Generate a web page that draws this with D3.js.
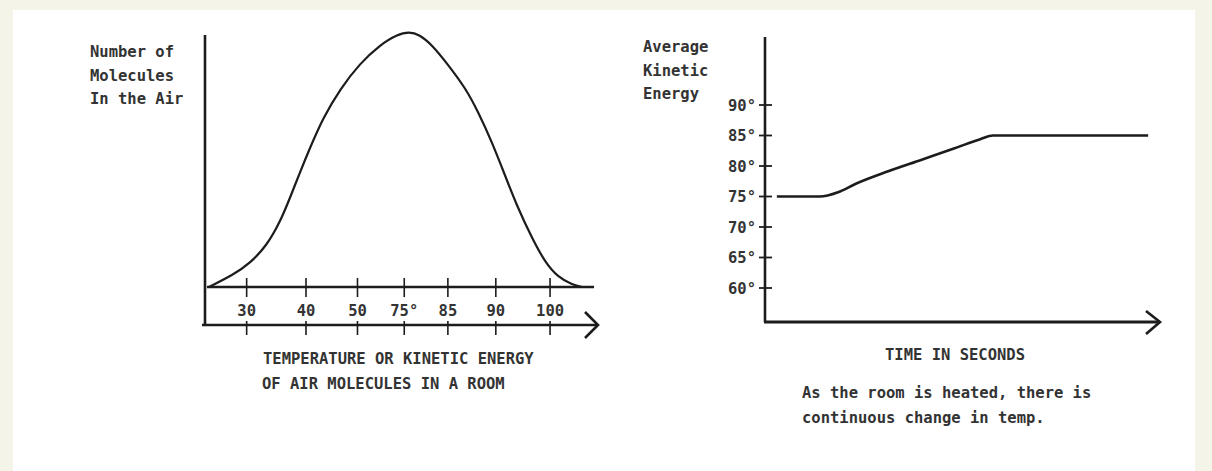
<!DOCTYPE html>
<html>
<head>
<meta charset="utf-8">
<script src="https://cdn.jsdelivr.net/npm/d3@7"></script>
<style>
  html, body { margin: 0; padding: 0; background: #f4f4e8; }
  svg { display: block; }
  text { font-family: "DejaVu Sans Mono", "Liberation Mono", monospace; font-size: 15.5px; font-weight: bold; fill: #333333; }
</style>
</head>
<body>
<svg id="chart" width="1212" height="471"></svg>
<script>
// ---------- data: left chart (distribution of molecules) ----------
const energyTickLabels = ["30", "40", "50", "75°", "85", "90", "100"];
const energyTickPos    = [1.06, 2.57, 3.88, 5.07, 6.18, 7.40, 8.78];   // position along the energy axis (0..10)
const energyPos     = [0.10, 0.71, 1.15, 1.58, 1.91, 2.16, 2.42, 2.67, 3.00, 3.44, 3.94, 4.45, 4.89, 5.20, 5.45, 5.78, 6.18, 6.62, 6.95, 7.30, 7.63, 7.96, 8.32, 8.65, 8.98, 9.34, 9.59];
const moleculeCount = [0,    4.7,  9.4,  16.5, 25.6, 35.0, 45.3, 54.7, 66.5, 78.0, 88.0, 95.3, 99.4, 100.5,99.4, 95.3, 87.6, 78.5, 69.0, 57.1, 44.1, 31.1, 19.3, 9.8,  3.9,  1.0,  0];
const leftYLabel = ["Number of", "Molecules", "In the Air"];
const leftXLabel = ["TEMPERATURE OR KINETIC ENERGY", "OF AIR MOLECULES IN A ROOM"];

// ---------- data: right chart (average kinetic energy over time) ----------
const tempTicks = [60, 65, 70, 75, 80, 85, 90];
const timeVals  = [0.30, 1.39, 1.85, 2.30, 3.10, 3.95, 4.80, 5.45, 5.77, 9.70];
const tempVals  = [75,   75,   75.7, 77.1, 79.1, 81.0, 82.9, 84.4, 85,   85];
const rightYLabel = ["Average", "Kinetic", "Energy"];
const rightXLabel = ["TIME IN SECONDS"];
const caption = ["As the room is heated, there is", "continuous change in temp."];

const svg = d3.select("#chart");
const ink = "#1c1c1c";

// paper
svg.append("rect").attr("x", 13).attr("y", 10).attr("width", 1182).attr("height", 461).attr("fill", "#ffffff");

// ================= LEFT CHART =================
const xL = d3.scaleLinear().domain([0, 10]).range([205, 598]);
const yL = d3.scaleLinear().domain([0, 100]).range([287, 33]);
const axisYL = 325;
const gL = svg.append("g");

// vertical axis
gL.append("line").attr("x1", xL(0)).attr("x2", xL(0)).attr("y1", 35).attr("y2", axisYL)
  .attr("stroke", ink).attr("stroke-width", 2.6);
// lower axis with arrow
gL.append("line").attr("x1", xL(0) - 3).attr("x2", xL(10)).attr("y1", axisYL).attr("y2", axisYL)
  .attr("stroke", ink).attr("stroke-width", 2.6);
gL.append("path").attr("d", `M${xL(10) - 13},${axisYL - 13} L${xL(10)},${axisYL} L${xL(10) - 13},${axisYL + 13}`)
  .attr("fill", "none").attr("stroke", ink).attr("stroke-width", 2.6).attr("stroke-linejoin", "miter");
// baseline of the distribution
gL.append("line").attr("x1", xL(0.05)).attr("x2", xL(9.9)).attr("y1", yL(0)).attr("y2", yL(0))
  .attr("stroke", ink).attr("stroke-width", 2.4);

// ticks crossing both lines
const tk = gL.selectAll(".etick").data(energyTickLabels).join("g").attr("class", "etick")
  .attr("transform", (d, i) => `translate(${xL(energyTickPos[i])},0)`);
tk.append("line").attr("y1", yL(0) - 9).attr("y2", yL(0) + 10).attr("stroke", ink).attr("stroke-width", 1.6);
tk.append("line").attr("y1", axisYL - 4).attr("y2", axisYL + 10).attr("stroke", ink).attr("stroke-width", 1.6);
tk.append("text").attr("y", 316).attr("text-anchor", "middle").text(d => d);

// bell curve
const lineL = d3.line().x((d, i) => xL(energyPos[i])).y(d => yL(d)).curve(d3.curveBasis);
gL.append("path").datum(moleculeCount).attr("d", lineL)
  .attr("fill", "none").attr("stroke", ink).attr("stroke-width", 2.2);

// labels
gL.selectAll(".ylab").data(leftYLabel).join("text").attr("class", "ylab")
  .attr("x", 90).attr("y", (d, i) => 57 + i * 23.5).text(d => d);
gL.selectAll(".xlab").data(leftXLabel).join("text").attr("class", "xlab")
  .attr("x", (d, i) => 263 - i).attr("y", (d, i) => 364 + i * 25).text(d => d);

// ================= RIGHT CHART =================
const xR = d3.scaleLinear().domain([0, 10]).range([765, 1160]);
const yR = d3.scaleLinear().domain([60, 90]).range([288, 105]);
const axisYR = 322;
const gR = svg.append("g");

gR.append("line").attr("x1", xR(0)).attr("x2", xR(0)).attr("y1", 37).attr("y2", axisYR)
  .attr("stroke", ink).attr("stroke-width", 2.6);
gR.append("line").attr("x1", xR(0) - 1).attr("x2", xR(10)).attr("y1", axisYR).attr("y2", axisYR)
  .attr("stroke", ink).attr("stroke-width", 2.8);
gR.append("path").attr("d", `M${xR(10) - 14},${axisYR - 11} L${xR(10)},${axisYR} L${xR(10) - 14},${axisYR + 12}`)
  .attr("fill", "none").attr("stroke", ink).attr("stroke-width", 2.6);

const tr = gR.selectAll(".ttick").data(tempTicks).join("g").attr("class", "ttick")
  .attr("transform", d => `translate(0,${yR(d)})`);
tr.append("line").attr("x1", xR(0) - 6).attr("x2", xR(0) + 7).attr("stroke", ink).attr("stroke-width", 1.8);
tr.append("text").attr("x", xR(0) - 9).attr("y", 5.5).attr("text-anchor", "end").text(d => d + "°");

const lineR = d3.line().x((d, i) => xR(timeVals[i])).y(d => yR(d)).curve(d3.curveMonotoneX);
gR.append("path").datum(tempVals).attr("d", lineR)
  .attr("fill", "none").attr("stroke", ink).attr("stroke-width", 2.6);

gR.selectAll(".ylab").data(rightYLabel).join("text").attr("class", "ylab")
  .attr("x", 643).attr("y", (d, i) => 52 + i * 23.5).text(d => d);
gR.selectAll(".xlab").data(rightXLabel).join("text").attr("class", "xlab")
  .attr("x", 885).attr("y", 360).text(d => d);
gR.selectAll(".cap").data(caption).join("text").attr("class", "cap")
  .attr("x", 802).attr("y", (d, i) => 398 + i * 25).text(d => d);
</script>
</body>
</html>
